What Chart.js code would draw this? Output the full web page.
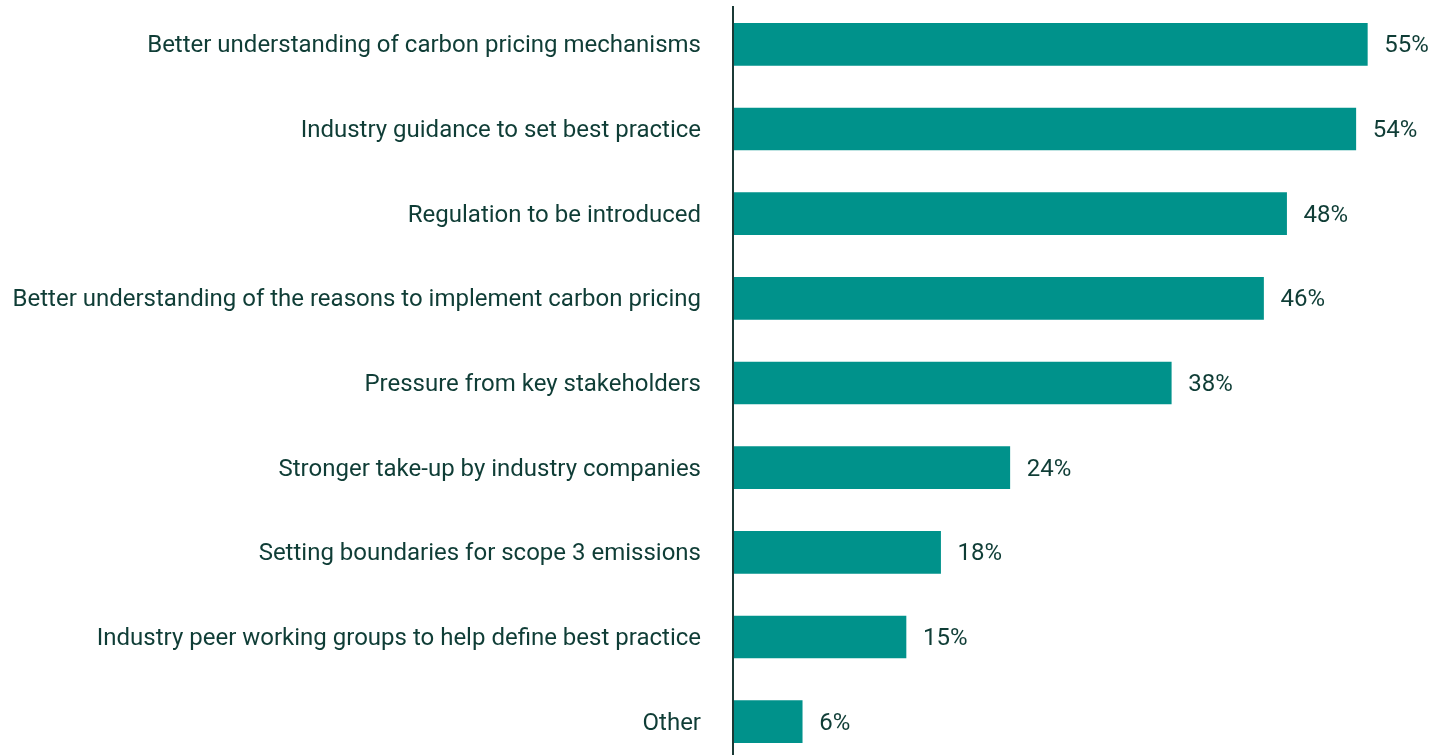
<!DOCTYPE html>
<html lang="en">
<head>
    <meta charset="UTF-8">
    <title>Carbon pricing drivers</title>
    <script src="https://cdn.jsdelivr.net/npm/chart.js"></script>
    <style>
        html, body { margin: 0; padding: 0; background: #fff; overflow: hidden; }
        #wrap { position: relative; width: 1432px; height: 766px; }
    </style>
</head>
<body>
    <div id="wrap">
        <canvas id="barChart"></canvas>
    </div>

    <script>
        const categories = [
            'Better understanding of carbon pricing mechanisms',
            'Industry guidance to set best practice',
            'Regulation to be introduced',
            'Better understanding of the reasons to implement carbon pricing',
            'Pressure from key stakeholders',
            'Stronger take-up by industry companies',
            'Setting boundaries for scope 3 emissions',
            'Industry peer working groups to help define best practice',
            'Other'
        ];
        const shares = [55, 54, 48, 46, 38, 24, 18, 15, 6];

        const textColor = '#0f3d36';
        const barColor = '#00928b';
        const font = { family: 'Roboto', size: 24 };
        const textNudge = 2;

        // value labels to the right of each bar
        const valueLabels = {
            id: 'valueLabels',
            afterDatasetsDraw(chart) {
                const ctx = chart.ctx;
                const meta = chart.getDatasetMeta(0);
                ctx.save();
                ctx.fillStyle = textColor;
                ctx.font = `${font.size}px ${font.family}`;
                ctx.textAlign = 'left';
                ctx.textBaseline = 'middle';
                meta.data.forEach((bar, i) => {
                    ctx.fillText(shares[i] + '%', bar.x + 17, bar.y + textNudge);
                });
                ctx.restore();
            }
        };

        // vertical axis line at zero, and a small downward nudge for category labels
        const zeroLine = {
            id: 'zeroLine',
            afterLayout(chart) {
                const y = chart.scales.y;
                if (y._nudged) return;
                const draw = y.drawLabels.bind(y);
                y.drawLabels = function (area) {
                    chart.ctx.save();
                    chart.ctx.translate(0, textNudge);
                    draw(area);
                    chart.ctx.restore();
                };
                y._nudged = true;
            },
            afterDatasetsDraw(chart) {
                const ctx = chart.ctx;
                const x = chart.scales.x.getPixelForValue(0);
                ctx.save();
                ctx.strokeStyle = '#1b3a36';
                ctx.lineWidth = 2;
                ctx.beginPath();
                ctx.moveTo(x, 6);
                ctx.lineTo(x, chart.height);
                ctx.stroke();
                ctx.restore();
            }
        };

        new Chart(document.getElementById('barChart'), {
            type: 'bar',
            data: {
                labels: categories,
                datasets: [{
                    data: shares,
                    backgroundColor: barColor,
                    barThickness: 42
                }]
            },
            options: {
                indexAxis: 'y',
                responsive: true,
                maintainAspectRatio: false,
                animation: false,
                layout: { padding: { top: 2, bottom: 2, right: 7, left: 0 } },
                plugins: {
                    legend: { display: false },
                    tooltip: { enabled: false }
                },
                scales: {
                    x: {
                        display: false,
                        min: 0,
                        max: 60
                    },
                    y: {
                        afterFit(scale) {
                            scale.width = 733;
                            // tick padding should not shrink the bands vertically
                            scale.paddingTop = 0;
                            scale.paddingBottom = 0;
                        },
                        grid: { display: false, drawTicks: false },
                        border: { display: false },
                        ticks: {
                            color: textColor,
                            font: font,
                            padding: 32
                        }
                    }
                }
            },
            plugins: [valueLabels, zeroLine]
        });
    </script>
</body>
</html>
